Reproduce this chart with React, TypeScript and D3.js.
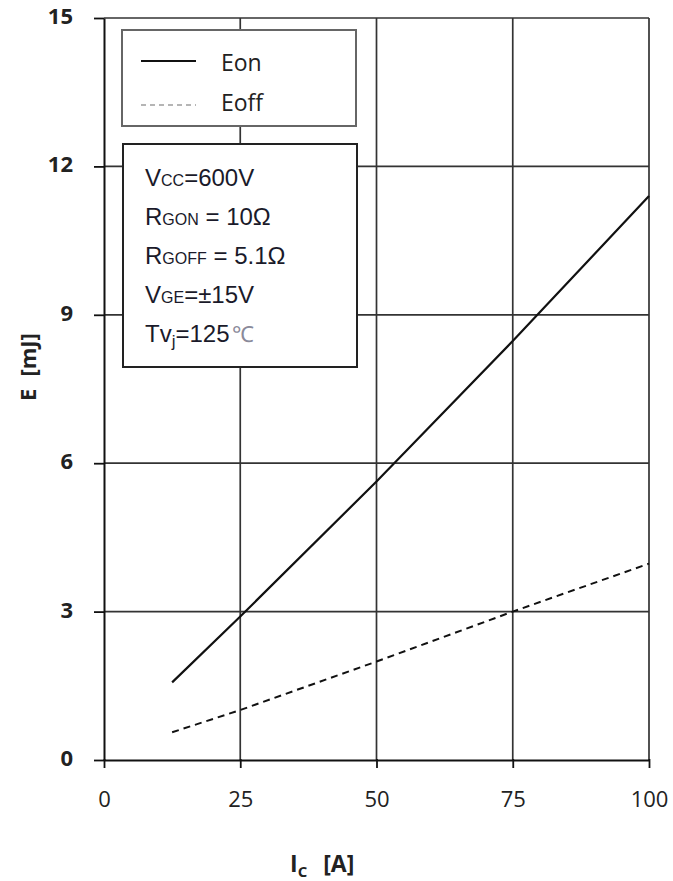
import React, { useRef, useEffect } from 'react';
import * as d3 from 'd3';

// collector current [A]
const currentA = [12.5, 25, 50, 75, 100];
// switching energies [mJ]
const eonValues = [1.57, 2.9, 5.63, 8.47, 11.4];
const eoffValues = [0.56, 1.01, 1.99, 3.0, 3.97];

const xTicks = [0, 25, 50, 75, 100];
const yTicks = [0, 3, 6, 9, 12, 15];

const width = 673;
const height = 881;
const margin = { top: 18, bottom: 121, left: 104, right: 24 };
const plotW = width - margin.left - margin.right;
const plotH = height - margin.top - margin.bottom;

const App = () => {
  const ref = useRef(null);

  useEffect(() => {
    document.body.style.margin = '0';
    const root = d3.select(ref.current);
    root.selectAll('*').remove();

    const svg = root
      .append('svg')
      .attr('width', width)
      .attr('height', height)
      .style('display', 'block')
      .style('background', '#fff');

    const g = svg.append('g').attr('transform', `translate(${margin.left}, ${margin.top})`);

    const x = d3.scaleLinear().domain([0, 100]).range([0, plotW]);
    const y = d3.scaleLinear().domain([0, 15]).range([plotH, 0]);

    // grid
    g.selectAll('.vgrid')
      .data(xTicks.slice(1))
      .enter()
      .append('line')
      .attr('x1', (d) => x(d))
      .attr('x2', (d) => x(d))
      .attr('y1', 0)
      .attr('y2', plotH)
      .attr('stroke', '#333')
      .attr('stroke-width', 1.7);

    g.selectAll('.hgrid')
      .data(yTicks.slice(1))
      .enter()
      .append('line')
      .attr('x1', 0)
      .attr('x2', plotW)
      .attr('y1', (d) => y(d))
      .attr('y2', (d) => y(d))
      .attr('stroke', '#333')
      .attr('stroke-width', 1.7);

    // axes
    const yAxis = d3.axisLeft(y).tickValues(yTicks).tickSize(10).tickSizeOuter(0).tickFormat(d3.format('d'));
    const ya = g.append('g').call(yAxis);
    ya.select('.domain').attr('stroke', '#111').attr('stroke-width', 2);
    ya.selectAll('.tick line').attr('stroke', '#111').attr('stroke-width', 1.8);
    ya.selectAll('.tick text')
      .attr('x', -31)
      .attr('dy', '0.25em')
      .style('font-family', '"Open Sans", sans-serif')
      .style('font-weight', 'bold')
      .style('font-size', '22px')
      .attr('fill', '#222');

    const xAxis = d3.axisBottom(x).tickValues(xTicks).tickSize(8).tickSizeOuter(0).tickFormat(d3.format('d'));
    const xa = g.append('g').attr('transform', `translate(0, ${plotH})`).call(xAxis);
    xa.select('.domain').attr('stroke', '#111').attr('stroke-width', 2);
    xa.selectAll('.tick line').attr('stroke', '#111').attr('stroke-width', 1.8).attr('y1', -1);
    xa.selectAll('.tick text')
      .attr('y', 39)
      .attr('dy', '0.35em')
      .style('font-family', '"Open Sans", sans-serif')
      .style('font-size', '22px')
      .attr('fill', '#222');

    // curves
    const line = d3
      .line<number>()
      .x((d, i) => x(currentA[i]))
      .y((d) => y(d));

    g.append('path')
      .attr('d', line(eonValues))
      .attr('fill', 'none')
      .attr('stroke', '#111')
      .attr('stroke-width', 2.2);

    g.append('path')
      .attr('d', line(eoffValues))
      .attr('fill', 'none')
      .attr('stroke', '#111')
      .attr('stroke-width', 2)
      .attr('stroke-dasharray', '7,5');

    // legend box
    const leg = svg.append('g').attr('transform', 'translate(122, 30)');
    leg.append('rect')
      .attr('width', 234)
      .attr('height', 96)
      .attr('fill', '#fff')
      .attr('stroke', '#666')
      .attr('stroke-width', 2);
    leg.append('line').attr('x1', 19).attr('x2', 74).attr('y1', 31).attr('y2', 31).attr('stroke', '#111').attr('stroke-width', 2);
    leg.append('line')
      .attr('x1', 19).attr('x2', 74).attr('y1', 75).attr('y2', 75)
      .attr('stroke', '#b5b5b5').attr('stroke-width', 2).attr('stroke-dasharray', '5,4');
    leg.selectAll('.lt')
      .data(['Eon', 'Eoff'])
      .enter()
      .append('text')
      .attr('x', 99)
      .attr('y', (d, i) => 41 + i * 40)
      .text((d) => d)
      .style('font-family', '"Open Sans", sans-serif')
      .style('font-size', '23px')
      .attr('fill', '#222');

    // conditions box
    const cond = svg.append('g').attr('transform', 'translate(123, 144)');
    cond.append('rect')
      .attr('width', 234)
      .attr('height', 223)
      .attr('fill', '#fff')
      .attr('stroke', '#222')
      .attr('stroke-width', 2);

    const rows = [
      [['V', ''], ['CC', 'sub'], ['=600V', '']],
      [['R', ''], ['GON', 'sub'], [' = 10Ω', '']],
      [['R', ''], ['GOFF', 'sub'], [' = 5.1Ω', '']],
      [['V', ''], ['GE', 'sub'], ['=±15V', '']],
      [['Tv', ''], ['j', 'low'], ['=125', 'up'], ['℃', 'deg']],
    ];
    rows.forEach((row, i) => {
      const t = cond.append('text')
        .attr('x', 22)
        .attr('y', 42 + i * 39)
        .style('font-family', '"Liberation Sans", Arial, sans-serif')
        .style('font-size', '24px')
        .attr('fill', '#1a1a2a');
      row.forEach(([s, kind]) => {
        const sp = t.append('tspan').text(s);
        if (kind === 'sub') sp.style('font-size', '16px');
        if (kind === 'low') sp.style('font-size', '17px').attr('dy', 5);
        if (kind === 'up') sp.attr('dy', -5);
        if (kind === 'deg') sp.attr('fill', '#8a8a9a').style('font-size', '22px').attr('dx', 2);
      });
    });

    // axis titles
    const xt = svg.append('text')
      .attr('x', 290)
      .attr('y', 872)
      .style('font-family', '"Open Sans", sans-serif')
      .style('font-weight', 'bold')
      .style('font-size', '23px')
      .attr('fill', '#222');
    xt.append('tspan').text('I');
    xt.append('tspan').text('C').style('font-size', '15px').attr('dy', 5);
    xt.append('tspan').text('[A]').attr('dy', -5).attr('dx', 16);

    const yt = svg.append('text')
      .attr('transform', 'translate(36, 367) rotate(-90)')
      .attr('text-anchor', 'middle')
      .style('font-family', '"Open Sans", sans-serif')
      .style('font-weight', 'bold')
      .style('font-size', '22px')
      .attr('fill', '#222');
    yt.append('tspan').text('E');
    yt.append('tspan').text('[mJ]').attr('dx', 12);
  }, []);

  return <div ref={ref}></div>;
};

export default App;
